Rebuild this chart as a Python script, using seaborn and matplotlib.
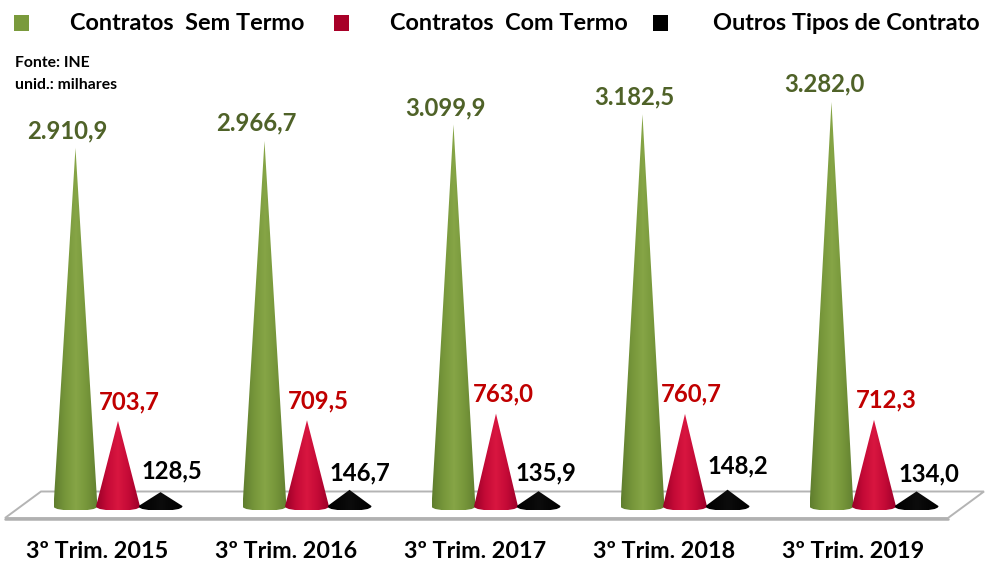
import numpy as np
import pandas as pd
import seaborn as sns
import matplotlib
matplotlib.use("Agg")
import matplotlib.pyplot as plt
from matplotlib.colors import LinearSegmentedColormap
from matplotlib.patches import PathPatch, Polygon, Rectangle
from matplotlib.path import Path
from matplotlib.transforms import ScaledTranslation

quarters = ["3º Trim. 2015", "3º Trim. 2016", "3º Trim. 2017", "3º Trim. 2018", "3º Trim. 2019"]
series = ["Contratos  Sem Termo", "Contratos  Com Termo", "Outros Tipos de Contrato"]
sem_termo = [2910.9, 2966.7, 3099.9, 3182.5, 3282.0]
com_termo = [703.7, 709.5, 763.0, 760.7, 712.3]
outros = [128.5, 146.7, 135.9, 148.2, 134.0]

# label offsets from the cone tip, in pixels (dx, dy)
green_off = [(-8, 17), (-8, 18), (-8, 17), (-8, 17), (-7, 18)]
red_off = [(11, 19), (11, 19), (7, 20), (6, 20), (12, 20)]
black_off = [(11, 21), (10, 17), (7, 18), (10, 24), (12, 18)]

W, H = 985, 562
sns.set_theme(style="white")
plt.rcParams["font.family"] = ["Lato", "DejaVu Sans"]
plt.rcParams["font.weight"] = "bold"
fig = plt.figure(figsize=(W / 100, H / 100), dpi=100)
fig.patch.set_facecolor("white")
AX_BOTTOM = 530
ax = fig.add_axes([0, 1 - AX_BOTTOM / H, 1, AX_BOTTOM / H])

df = pd.DataFrame({
    "quarter": quarters * 3,
    "serie": np.repeat(series, 5),
    "value": sem_termo + com_termo + outros,
})
palette = dict(zip(series, ["#7a9a3c", "#b0002c", "#000000"]))
sns.barplot(data=df, x="quarter", y="value", hue="serie", hue_order=series,
            palette=palette, width=0.675, gap=0, legend=False, ax=ax, errorbar=None)

PX_PER_UNIT = 0.1237
BASE_PY = 508
SPACING = 189
XLIM = (-118 / SPACING, (W - 118) / SPACING)
YLIM = ((BASE_PY - AX_BOTTOM) / PX_PER_UNIT, BASE_PY / PX_PER_UNIT)
ax.set_facecolor("none")
ax.set_ylabel("")
ax.set_xlabel("")
ax.set_yticks([])
sns.despine(ax=ax, left=True, bottom=True)


def px(x, y):
    return ((x - 118) / SPACING, (BASE_PY - y) / PX_PER_UNIT)


# floor
floor = Polygon([px(41, 491.5), px(984, 491.5), px(948, 518), px(5, 518)], closed=True,
                facecolor="white", edgecolor="#b4b4b4", lw=1.4, zorder=0.5)
ax.add_patch(floor)
ax.plot(*zip(px(5, 518.5), px(948, 518.5)), color="#b0b0b0", lw=1.8, zorder=0.6)

cmaps = [
    LinearSegmentedColormap.from_list("g", ["#5f7d2e", "#76963a", "#86a546", "#76963a", "#617f30"]),
    LinearSegmentedColormap.from_list("r", ["#980028", "#c40a36", "#d81640", "#c40a36", "#9c002a"]),
    LinearSegmentedColormap.from_list("k", ["#000000", "#0c0c0c", "#000000"]),
]
label_colors = ["#4f6228", "#c00000", "#000000"]
offsets = [green_off, red_off, black_off]
corner = 2 / PX_PER_UNIT
bottom = -2.5 / PX_PER_UNIT
grad = np.linspace(0, 1, 256).reshape(1, -1)

for cont, cmap, col, off in zip(ax.containers, cmaps, label_colors, offsets):
    for bar, (dx, dy) in zip(cont, off):
        x0, w, h = bar.get_x(), bar.get_width(), bar.get_height()
        bar.set_visible(False)
        xc = x0 + w / 2
        hw = w / 2 * 1.03
        left, right = xc - hw, xc + hw
        verts = [(xc, h), (right, corner),
                 (right + hw * 0.02, bottom * 0.6), (xc + hw * 0.5, bottom), (xc, bottom),
                 (xc - hw * 0.5, bottom), (left - hw * 0.02, bottom * 0.6), (left, corner),
                 (xc, h)]
        codes = [Path.MOVETO, Path.LINETO,
                 Path.CURVE4, Path.CURVE4, Path.CURVE4,
                 Path.CURVE4, Path.CURVE4, Path.CURVE4,
                 Path.CLOSEPOLY]
        clip = PathPatch(Path(verts, codes), transform=ax.transData, facecolor="none", edgecolor="none")
        ax.add_patch(clip)
        im = ax.imshow(grad, extent=(left, right, bottom, h), cmap=cmap, aspect="auto",
                       origin="lower", zorder=2, interpolation="bilinear")
        im.set_clip_path(clip)
        label = f"{h:,.1f}".replace(",", "#").replace(".", ",").replace("#", ".")
        ax.annotate(label, (xc, h), xytext=(dx * 0.72, dy * 0.72), textcoords="offset points",
                    ha="center", va="center", color=col, fontsize=17.2, fontweight="bold", zorder=5)

ax.set_xlim(*XLIM)
ax.set_ylim(*YLIM)

# category labels
ax.set_xticks(range(5))
ax.set_xticklabels(quarters, fontsize=16.8, fontweight="bold", color="black")
ax.tick_params(axis="x", length=0, pad=7.6)
shift = ScaledTranslation(-20.5 / 100, 0, fig.dpi_scale_trans)
for t in ax.get_xticklabels():
    t.set_transform(t.get_transform() + shift)

# legend
for sq_x, color, txt_x, name in zip([14, 334, 653], ["#7a9a3c", "#a80028", "#000000"], [70, 390, 713], series):
    fig.add_artist(Rectangle((sq_x / W, 1 - 31 / H), 15 / W, 16 / H, transform=fig.transFigure,
                             facecolor=color, edgecolor="none"))
    fig.text(txt_x / W, 1 - 24 / H, name, ha="left", va="center", fontsize=16.9, fontweight="bold", color="black")

fig.text(15 / W, 1 - 63 / H, "Fonte: INE", fontsize=11.3, fontweight="bold", va="center", color="black")
fig.text(15 / W, 1 - 85 / H, "unid.: milhares", fontsize=11.3, fontweight="bold", va="center", color="black")

fig.savefig("out.png", dpi=100)
